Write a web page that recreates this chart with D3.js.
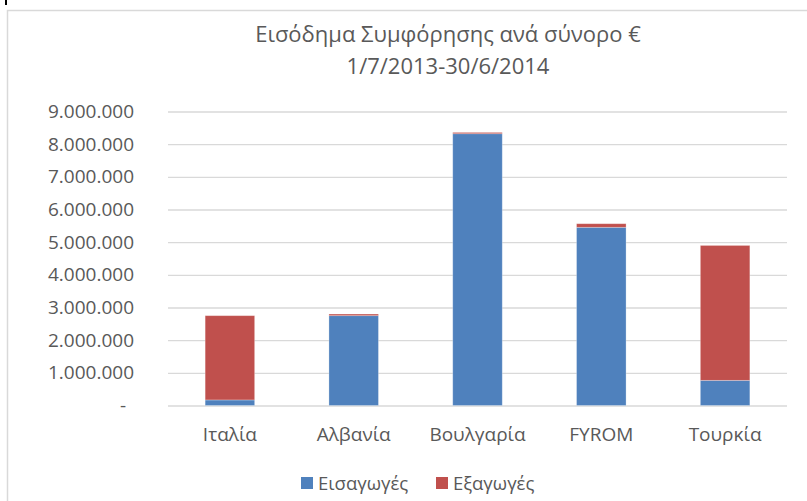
<!DOCTYPE html>
<html>
<head>
<meta charset="utf-8">
<script src="https://cdnjs.cloudflare.com/ajax/libs/d3/7.8.5/d3.min.js"></script>
<style>
  body { margin: 0; background: #fff; }
  text { font-family: "Open Sans", "Noto Sans", sans-serif; fill: #595959; }
  .axis path { display: none; }
  .grid line { stroke: #d9d9d9; stroke-width: 1.3; }
</style>
</head>
<body>
<div id="vis"></div>
<script>
// Chart values
var categories = ['Ιταλία', 'Αλβανία', 'Βουλγαρία', 'FYROM', 'Τουρκία'];
var imports = [170000, 2750000, 8320000, 5455000, 770000];   // Εισαγωγές
var exports = [2580000, 50000, 40000, 110000, 4130000];      // Εξαγωγές
var seriesNames = ['Εισαγωγές', 'Εξαγωγές'];
var seriesColors = ['#4f81bd', '#c0504d'];
var yTicks = [0, 1000000, 2000000, 3000000, 4000000, 5000000, 6000000, 7000000, 8000000, 9000000];
var titleLines = ['Εισόδημα Συμφόρησης ανά σύνορο €', '1/7/2013-30/6/2014'];

var width = 807, height = 501;
var plot = { left: 168, right: 787, top: 111.5, bottom: 405.5 };

var svg = d3.select('#vis').append('svg')
    .attr('width', width)
    .attr('height', height);

// chart frame (only left and top edges are inside the picture)
svg.append('path')
    .attr('d', 'M7.5,501 L7.5,10.5 L807,10.5')
    .attr('fill', 'none')
    .attr('stroke', '#d9d9d9')
    .attr('stroke-width', 1.5);
svg.append('rect').attr('x', 5).attr('y', 0).attr('width', 2).attr('height', 5).attr('fill', '#000');

// number format 9.000.000, zero shown as "-"
var locale = d3.formatLocale({ decimal: ',', thousands: '.', grouping: [3], currency: ['', '€'] });
var fmt = locale.format(',d');

var xScale = d3.scaleBand()
    .domain(categories)
    .range([plot.left, plot.right])
    .paddingInner(0.6)
    .paddingOuter(0.3);

var yScale = d3.scaleLinear()
    .domain([0, 9000000])
    .range([plot.bottom, plot.top]);

// gridlines + y labels
var yAxis = d3.axisLeft(yScale)
    .tickValues(yTicks)
    .tickSizeInner(-(plot.right - plot.left))
    .tickSizeOuter(0)
    .tickPadding(34)
    .tickFormat(function(d) { return d === 0 ? '-' : fmt(d); });

var yG = svg.append('g')
    .attr('class', 'axis grid')
    .attr('transform', 'translate(' + plot.left + ',0)')
    .call(yAxis);
yG.selectAll('text')
    .attr('font-size', 19)
    .attr('fill', '#595959')
    .filter(function(d) { return d === 0; })
    .attr('x', -42);

// stacked bars
var stack = d3.stack().keys([0, 1])(categories.map(function(c, i) {
    return { 0: imports[i], 1: exports[i], cat: c };
}));

svg.append('g').selectAll('g')
    .data(stack)
    .enter().append('g')
    .attr('fill', function(d, i) { return seriesColors[i]; })
    .selectAll('rect')
    .data(function(d) { return d; })
    .enter().append('rect')
    .attr('x', function(d) { return xScale(d.data.cat); })
    .attr('width', xScale.bandwidth())
    .attr('y', function(d) { return yScale(d[1]); })
    .attr('height', function(d) { return yScale(d[0]) - yScale(d[1]); })
    .attr('stroke', 'rgba(255,255,255,0.35)')
    .attr('stroke-width', 0.8);

// x labels
var xAxis = d3.axisBottom(xScale).tickSize(0).tickPadding(22);
var xG = svg.append('g')
    .attr('class', 'axis')
    .attr('transform', 'translate(0,' + plot.bottom + ')')
    .call(xAxis);
xG.selectAll('text')
    .attr('font-size', 19)
    .attr('fill', '#595959');

// title
svg.append('g').selectAll('text')
    .data(titleLines)
    .enter().append('text')
    .attr('x', 448)
    .attr('y', function(d, i) { return 42 + i * 32; })
    .attr('text-anchor', 'middle')
    .attr('font-size', 22)
    .text(function(d) { return d; });

// legend
var legendX = [301, 436];
var legend = svg.append('g').selectAll('g')
    .data(seriesNames)
    .enter().append('g')
    .attr('transform', function(d, i) { return 'translate(' + legendX[i] + ',477)'; });
legend.append('rect')
    .attr('width', 12)
    .attr('height', 12)
    .attr('fill', function(d, i) { return seriesColors[i]; });
legend.append('text')
    .attr('x', 17)
    .attr('y', 12.5)
    .attr('font-size', 18.5)
    .text(function(d) { return d; });
</script>
</body>
</html>
